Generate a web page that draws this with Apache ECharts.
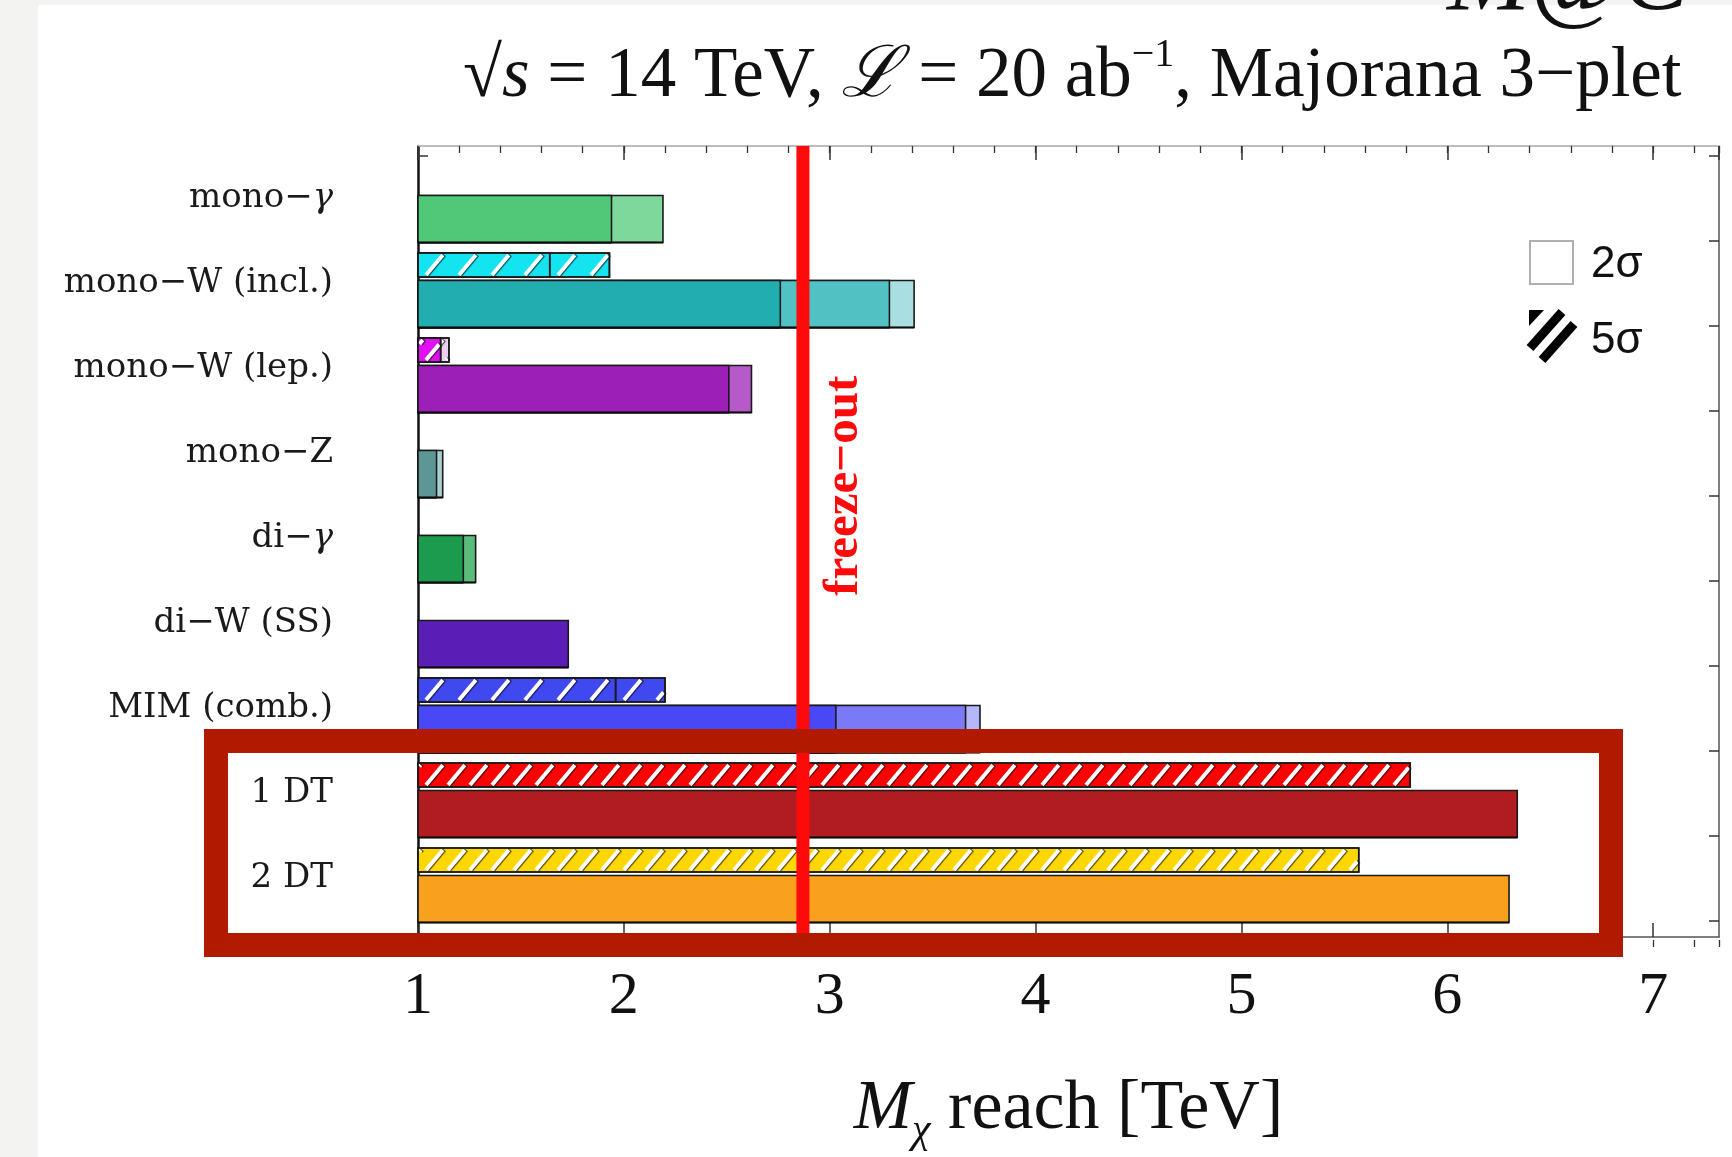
<!DOCTYPE html>
<html><head><meta charset="utf-8">
<script src="https://cdn.jsdelivr.net/npm/echarts@6/dist/echarts.min.js"></script>
<style>html,body{margin:0;padding:0;background:#fff}#c{width:1732px;height:1157px}</style>
</head><body><div id="c"></div>
<script>
// ---------------- data ----------------
const categories = ['mono−γ', 'mono−W (incl.)', 'mono−W (lep.)', 'mono−Z', 'di−γ', 'di−W (SS)', 'MIM (comb.)', '1 DT', '2 DT'];
// 2σ reach [TeV], one entry per systematic scenario (innermost first)
const reach2sigma = [
  [1.94, 2.19],
  [2.76, 3.29, 3.41],
  [2.51, 2.62],
  [1.09, 1.12],
  [1.22, 1.28],
  [1.73],
  [3.03, 3.66, 3.73],
  [6.34],
  [6.30]
];
// 5σ reach [TeV]
const reach5sigma = [
  [],
  [1.64, 1.93],
  [1.11, 1.15],
  [],
  [],
  [],
  [1.96, 2.20],
  [5.82],
  [5.57]
];
const freezeOut = [2.87];
const xTickLabels = [1, 2, 3, 4, 5, 6, 7];
const X_MIN = 1, X_MAX = 7.32;

// ---------------- styles ----------------
const solidColors = [
  ['#50c878', '#7ed89c'],
  ['#22aeb0', '#52c1c4', '#a9dfe1'],
  ['#9c1fb8', '#b65aca'],
  ['#5e9696', '#a8cfcf'],
  ['#1c9a4e', '#5abb7a'],
  ['#5a1eb6'],
  ['#4848f6', '#7a7af8', '#b5b7fb'],
  ['#b01c20'],
  ['#f9a01e']
];
const hatchColors = [
  [],
  ['#14e4ef', '#14e4ef'],
  ['#e010f0', '#ead2ee'],
  [], [], [],
  ['#4048f0', '#4048f0'],
  ['#f80404'],
  ['#ffd700']
];
const hatchSpacing = [0, 33, 20, 0, 0, 0, 33, 22, 22];

// ---------------- build series data ----------------
const barData = [];
categories.forEach((c, i) => {
  for (let j = reach2sigma[i].length - 1; j >= 0; j--) barData.push([reach2sigma[i][j], i, j, 0]);
  for (let j = reach5sigma[i].length - 1; j >= 0; j--) barData.push([reach5sigma[i][j], i, j, 1]);
});

function renderBar(params, api) {
  const reach = api.value(0), cat = api.value(1), seg = api.value(2), kind = api.value(3);
  const p0 = api.coord([X_MIN, cat]);
  const p1 = api.coord([reach, cat]);
  const band = api.size([0, 1])[1];
  let top, h, fill;
  if (kind === 0) { top = p0[1] - 0.035 * band; h = 0.553 * band; fill = solidColors[cat][seg]; }
  else { top = p0[1] - 0.359 * band; h = 0.283 * band; fill = hatchColors[cat][seg]; }
  const x = p0[0], w = p1[0] - p0[0];
  const children = [{
    type: 'rect', shape: { x: x, y: top, width: w, height: h },
    style: { fill: fill, stroke: '#1a1a1a', lineWidth: 1.6 }
  }];
  if (kind === 0) {
    children.push({ type: 'line', shape: { x1: x, y1: top + h, x2: x + w, y2: top + h },
      style: { stroke: 'rgba(0,0,0,0.55)', lineWidth: 2.5 } });
  }
  if (kind === 1) {
    const s = hatchSpacing[cat];
    const dx = 0.7 * h;
    for (let k = -2; k * s < w + s; k++) {
      const x0 = x + 8 + k * s;
      const tMin = Math.max(0, (x + 1.5 - x0) / dx);
      const tMax = Math.min(1, (x + w - 1.5 - x0) / dx);
      if (tMin >= tMax) continue;
      const yb = top + h - 2, yt = top + 2, hh = yb - yt;
      children.push({
        type: 'line',
        shape: { x1: x0 + dx * tMin, y1: yb - hh * tMin, x2: x0 + dx * tMax, y2: yb - hh * tMax },
        style: { stroke: '#ffffff', lineWidth: 4, shadowColor: 'rgba(0,0,0,0.7)', shadowOffsetX: 1.5, shadowBlur: 1 }
      });
    }
    children.push({
      type: 'rect', shape: { x: x, y: top, width: w, height: h },
      style: { fill: 'none', stroke: '#1a1a1a', lineWidth: 1.6 }
    });
  }
  return { type: 'group', children: children };
}

function renderFreeze(params, api) {
  const v = api.value(0);
  const pTop = api.coord([v, 1]);
  const pBot = api.coord([v, 0]);
  return {
    type: 'group',
    children: [
      { type: 'line', shape: { x1: pTop[0], y1: pTop[1], x2: pBot[0], y2: pBot[1] },
        style: { stroke: '#ff0a0a', lineWidth: 13 } },
      { type: 'text', x: pTop[0] + 41, y: pBot[1] - 0.5705 * (pBot[1] - pTop[1]), rotation: Math.PI / 2,
        style: { text: 'freeze−out', fill: '#ff0a0a', font: 'bold 49px "Liberation Serif"', align: 'center', verticalAlign: 'middle' } }
    ]
  };
}

const serif = '"Liberation Serif", "DejaVu Serif", serif';
const frameGrid = { left: 418, right: 13, top: 146, bottom: 210 };
const bandGrid = { left: 418, right: 13, top: 156, bottom: 236 };
const noZero = { onZero: false };

const chart = echarts.init(document.getElementById('c'), null, { renderer: 'canvas' });
chart.setOption({
  backgroundColor: '#ffffff',
  animation: false,
  title: {
    text: '√{i|s} = 14 TeV, {l|ℒ} = 20 ab{sup|−1}, Majorana 3−plet',
    left: 458, top: 30,
    textStyle: {
      fontFamily: serif, fontSize: 71, fontWeight: 'normal', color: '#111', lineHeight: 84,
      rich: {
        i: { fontFamily: serif, fontStyle: 'italic', fontSize: 71, lineHeight: 84, color: '#111' },
        l: { fontFamily: serif, fontStyle: 'italic', fontSize: 71, lineHeight: 84, color: '#111' },
        sup: { fontFamily: serif, fontSize: 40, lineHeight: 40, verticalAlign: 'top', color: '#111' }
      }
    }
  },
  grid: [
    Object.assign({ show: false }, frameGrid),
    Object.assign({ show: false }, frameGrid),
    Object.assign({ show: false }, bandGrid)
  ],
  xAxis: [
    { gridIndex: 0, type: 'value', position: 'bottom', min: X_MIN, max: X_MAX, interval: 1,
      axisLine: { show: true, onZero: false, lineStyle: { color: '#555', width: 1.5 } },
      axisTick: { show: true, inside: true, length: 14, lineStyle: { color: '#333', width: 1.5 } },
      splitLine: { show: false },
      axisLabel: { margin: 30, fontFamily: serif, fontSize: 60, color: '#111', showMaxLabel: false,
        formatter: v => (xTickLabels.indexOf(v) >= 0 ? String(v) : '') },
      name: '{m|M}{sub|χ} reach [TeV]', nameLocation: 'middle', nameGap: 131,
      nameTextStyle: { fontFamily: serif, fontSize: 70, color: '#111', lineHeight: 84,
        rich: {
          m: { fontFamily: serif, fontStyle: 'italic', fontSize: 70, lineHeight: 84, color: '#111' },
          sub: { fontFamily: serif, fontStyle: 'italic', fontSize: 42, lineHeight: 42, verticalAlign: 'bottom', color: '#111' }
        } } },
    { gridIndex: 0, type: 'value', position: 'top', min: X_MIN, max: X_MAX, interval: 1,
      axisLine: { show: true, onZero: false, lineStyle: { color: '#bdbdbd', width: 2 } },
      axisTick: { show: true, inside: true, length: 14, lineStyle: { color: '#333', width: 1.5 } },
      splitLine: { show: false }, axisLabel: { show: false } },
    { gridIndex: 1, type: 'value', position: 'bottom', min: X_MIN, max: X_MAX, interval: 0.2,
      axisLine: { show: false, onZero: false },
      axisTick: { show: true, inside: true, length: 7, lineStyle: { color: '#333', width: 1.3 } },
      splitLine: { show: false }, axisLabel: { show: false } },
    { gridIndex: 1, type: 'value', position: 'top', min: X_MIN, max: X_MAX, interval: 0.2,
      axisLine: { show: false, onZero: false },
      axisTick: { show: true, inside: true, length: 7, lineStyle: { color: '#333', width: 1.3 } },
      splitLine: { show: false }, axisLabel: { show: false } },
    { gridIndex: 2, type: 'value', min: X_MIN, max: X_MAX, show: false, axisLine: noZero }
  ],
  yAxis: [
    { gridIndex: 0, type: 'value', position: 'left', min: 0, max: 1,
      axisLine: { show: true, onZero: false, lineStyle: { color: '#111', width: 2.5 } },
      axisTick: { show: false }, axisLabel: { show: false }, splitLine: { show: false } },
    { gridIndex: 0, type: 'value', position: 'right', min: 0, max: 1,
      axisLine: { show: true, onZero: false, lineStyle: { color: '#555', width: 1.5 } },
      axisTick: { show: false }, axisLabel: { show: false }, splitLine: { show: false } },
    { gridIndex: 1, type: 'value', min: 0, max: 1, show: false, axisLine: noZero },
    { gridIndex: 1, type: 'value', min: 0, max: 1, show: false, position: 'right', axisLine: noZero },
    { gridIndex: 2, type: 'category', data: categories, inverse: true, position: 'left',
      axisLine: { show: false, onZero: false },
      axisTick: { show: true, inside: true, length: 10, lineStyle: { color: '#333', width: 1.5 } },
      axisLabel: { margin: 85, fontFamily: '"DejaVu Serif", serif', fontSize: 34, color: '#1a1a1a',
        formatter: v => v.replace('γ', '{g|γ}'),
        rich: { g: { fontFamily: '"DejaVu Serif", serif', fontStyle: 'italic', fontSize: 34, color: '#1a1a1a' } } },
      splitLine: { show: false } },
    { gridIndex: 2, type: 'category', data: categories, inverse: true, position: 'right',
      axisLine: { show: false, onZero: false },
      axisTick: { show: true, inside: true, length: 10, lineStyle: { color: '#333', width: 1.5 } },
      axisLabel: { show: false }, splitLine: { show: false } }
  ],
  series: [
    { type: 'custom', name: 'reach', xAxisIndex: 4, yAxisIndex: 4, z: 3,
      renderItem: renderBar, encode: { x: 0, y: 1 }, data: barData },
    { type: 'custom', name: 'freeze-out', xAxisIndex: 0, yAxisIndex: 0, z: 6,
      renderItem: renderFreeze, encode: { x: 0 }, data: freezeOut.map(v => [v]) }
  ],
  graphic: [
    { type: 'rect', z: -10, shape: { x: 0, y: 0, width: 38, height: 1157 }, style: { fill: '#f3f3f1' } },
    { type: 'rect', z: -10, shape: { x: 0, y: 0, width: 1732, height: 5 }, style: { fill: '#f3f3f1' } },
    { type: 'text', z: 10, x: 1447, y: 33, style: { text: 'M@C', font: 'italic 100px "Liberation Serif"', fill: '#111', verticalAlign: 'bottom' } },
    // legend
    { type: 'rect', z: 10, shape: { x: 1530, y: 241, width: 43, height: 43 }, style: { fill: '#fff', stroke: '#b0b0b0', lineWidth: 2 } },
    { type: 'text', z: 10, x: 1591, y: 265, style: { text: '2σ', font: '44px "Liberation Sans"', fill: '#111', verticalAlign: 'middle' } },
    { type: 'group', z: 10, children: [
      { type: 'polygon', shape: { points: [[1529, 310], [1544, 310], [1529, 326]] }, style: { fill: '#000' } },
      { type: 'line', shape: { x1: 1530, y1: 348, x2: 1562, y2: 312 }, style: { stroke: '#000', lineWidth: 9 } },
      { type: 'line', shape: { x1: 1542, y1: 360, x2: 1574, y2: 324 }, style: { stroke: '#000', lineWidth: 9 } }
    ] },
    { type: 'text', z: 10, x: 1591, y: 341, style: { text: '5σ', font: '44px "Liberation Sans"', fill: '#111', verticalAlign: 'middle' } },
    // highlight box
    { type: 'rect', z: 100, shape: { x: 216, y: 741, width: 1395, height: 204 }, style: { fill: 'none', stroke: '#b21a00', lineWidth: 24 } }
  ]
});
</script></body></html>
